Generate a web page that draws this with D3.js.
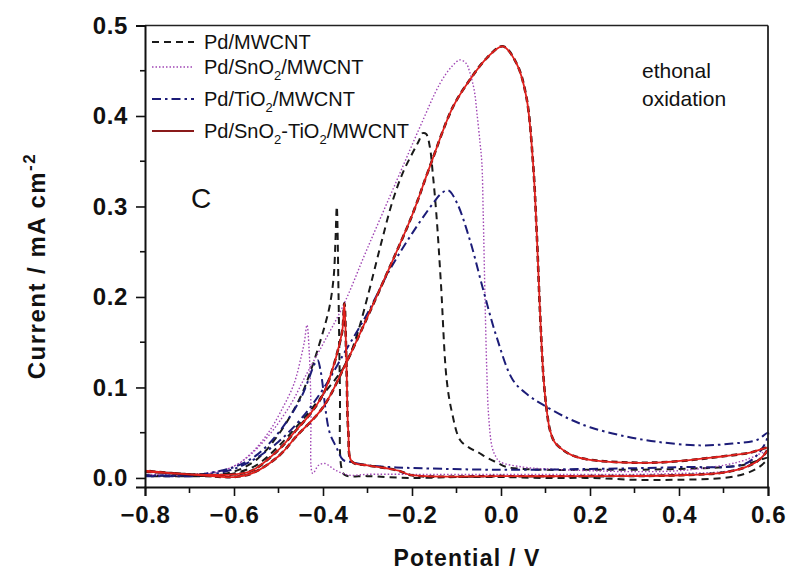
<!DOCTYPE html>
<html>
<meta charset="utf-8">
<style>
  body { margin: 0; background: #fff; }
  svg { display: block; }
  text { font-family: 'Liberation Sans', Arial, sans-serif; }
</style>
<body>
<svg id="chart" width="788" height="573"></svg>
<script src="https://cdn.jsdelivr.net/npm/d3@7"></script>
<script>
// potentials (V) and currents (mA cm-2), one loop per catalyst: forward scan then reverse scan
const pdMwcntV = [-0.8, -0.7, -0.65, -0.6, -0.55, -0.5, -0.45, -0.4, -0.35, -0.325, -0.3, -0.27, -0.243, -0.22, -0.2, -0.185, -0.176, -0.168, -0.16, -0.153, -0.145, -0.135, -0.122, -0.11, -0.092, -0.07, -0.054, -0.03, -0.009, 0.013, 0.05, 0.1, 0.2, 0.3, 0.4, 0.5, 0.55, 0.6,
  0.58, 0.55, 0.5, 0.4, 0.3, 0.2, 0.1, 0.0, -0.1, -0.2, -0.3, -0.35, -0.358, -0.362, -0.365, -0.369, -0.372, -0.376, -0.385, -0.395, -0.41, -0.43, -0.45, -0.5, -0.55, -0.6, -0.65, -0.7, -0.8]
const pdMwcntI = [0.003, 0.002, 0.002, 0.005, 0.014, 0.035, 0.062, 0.092, 0.125, 0.156, 0.2, 0.258, 0.307, 0.338, 0.358, 0.372, 0.381, 0.38, 0.366, 0.335, 0.29, 0.215, 0.108, 0.072, 0.042, 0.033, 0.029, 0.022, 0.017, 0.012, 0.01, 0.009, 0.009, 0.009, 0.01, 0.012, 0.015, 0.022,
  0.012, 0.005, 0.0, -0.002, -0.002, 0.0, 0.0, 0.001, 0.001, 0.0, 0.002, 0.003, 0.01, 0.1, 0.2, 0.3, 0.262, 0.222, 0.19, 0.17, 0.145, 0.115, 0.09, 0.048, 0.02, 0.007, 0.003, 0.002, 0.002]

const pdSnO2V = [-0.8, -0.7, -0.65, -0.6, -0.56, -0.52, -0.49, -0.467, -0.44, -0.4, -0.355, -0.3, -0.234, -0.182, -0.137, -0.11, -0.092, -0.078, -0.07, -0.06, -0.054, -0.047, -0.043, -0.04, -0.036, -0.032, -0.028, -0.02, -0.012, -0.003, 0.05, 0.1, 0.2, 0.3, 0.4, 0.5, 0.55, 0.6,
  0.58, 0.55, 0.5, 0.4, 0.3, 0.2, 0.0, -0.2, -0.3, -0.34, -0.37, -0.396, -0.41, -0.423, -0.427, -0.431, -0.436, -0.442, -0.45, -0.46, -0.47, -0.49, -0.52, -0.56, -0.6, -0.65, -0.7, -0.8]
const pdSnO2I = [0.003, 0.003, 0.005, 0.013, 0.027, 0.048, 0.068, 0.086, 0.112, 0.148, 0.19, 0.254, 0.329, 0.388, 0.436, 0.455, 0.462, 0.458, 0.448, 0.428, 0.403, 0.37, 0.348, 0.293, 0.2, 0.12, 0.07, 0.034, 0.024, 0.018, 0.012, 0.01, 0.008, 0.007, 0.008, 0.014, 0.02, 0.03,
  0.02, 0.012, 0.007, 0.005, 0.004, 0.004, 0.004, 0.004, 0.004, 0.003, 0.008, 0.016, 0.014, 0.005, 0.08, 0.14, 0.169, 0.15, 0.132, 0.112, 0.098, 0.078, 0.052, 0.028, 0.013, 0.006, 0.004, 0.004]

const pdTiO2V = [-0.8, -0.7, -0.65, -0.6, -0.55, -0.5, -0.45, -0.4, -0.35, -0.3, -0.25, -0.2, -0.152, -0.135, -0.119, -0.1, -0.07, -0.04, -0.01, 0.027, 0.06, 0.094, 0.15, 0.2, 0.27, 0.35, 0.447, 0.52, 0.575, 0.6,
  0.59, 0.55, 0.4, 0.2, 0.0, -0.2, -0.25, -0.3, -0.34, -0.355, -0.37, -0.385, -0.395, -0.4, -0.406, -0.412, -0.42, -0.43, -0.45, -0.5, -0.55, -0.6, -0.65, -0.7, -0.8]
const pdTiO2I = [0.002, 0.002, 0.004, 0.01, 0.022, 0.04, 0.065, 0.098, 0.14, 0.182, 0.23, 0.27, 0.304, 0.314, 0.318, 0.305, 0.263, 0.208, 0.156, 0.108, 0.092, 0.081, 0.066, 0.056, 0.047, 0.04, 0.036, 0.038, 0.042, 0.05,
  0.035, 0.016, 0.012, 0.01, 0.009, 0.011, 0.012, 0.014, 0.018, 0.02, 0.034, 0.05, 0.078, 0.1, 0.12, 0.13, 0.125, 0.112, 0.088, 0.05, 0.025, 0.012, 0.006, 0.003, 0.003]

const pdSnTiV = [-0.8, -0.7, -0.65, -0.62, -0.6, -0.56, -0.5, -0.46, -0.4, -0.35, -0.3, -0.25, -0.2, -0.16, -0.108, -0.07, -0.032, 0.004, 0.035, 0.057, 0.072, 0.08, 0.088, 0.096, 0.104, 0.11, 0.12, 0.139, 0.16, 0.2, 0.35, 0.5, 0.56, 0.6,
  0.58, 0.55, 0.5, 0.4, 0.2, 0.0, -0.2, -0.23, -0.26, -0.3, -0.335, -0.343, -0.347, -0.352, -0.356, -0.362, -0.38, -0.4, -0.43, -0.46, -0.5, -0.56, -0.6, -0.7, -0.8]
const pdSnTiI = [0.007, 0.004, 0.002, 0.001, 0.001, 0.005, 0.024, 0.046, 0.078, 0.125, 0.178, 0.233, 0.29, 0.344, 0.41, 0.44, 0.464, 0.477, 0.458, 0.421, 0.348, 0.274, 0.18, 0.108, 0.07, 0.053, 0.04, 0.031, 0.025, 0.02, 0.017, 0.024, 0.028, 0.033,
  0.02, 0.012, 0.006, 0.003, 0.002, 0.002, 0.003, 0.008, 0.011, 0.014, 0.018, 0.05, 0.12, 0.193, 0.165, 0.15, 0.118, 0.092, 0.07, 0.053, 0.031, 0.008, 0.004, 0.004, 0.008]

const seriesNames = ['Pd/MWCNT', 'Pd/SnO2/MWCNT', 'Pd/TiO2/MWCNT', 'Pd/SnO2-TiO2/MWCNT']
const xTicks = [-0.8, -0.6, -0.4, -0.2, 0.0, 0.2, 0.4, 0.6]
const yTicks = [0.0, 0.1, 0.2, 0.3, 0.4, 0.5]

const svg = d3.select('#chart')
const plotLeft = 145, plotRight = 768, plotTop = 25.5, plotBottom = 487

const x = d3.scaleLinear().domain([-0.8, 0.6]).range([plotLeft, plotRight])
const y = d3.scaleLinear().domain([-0.01, 0.5]).range([plotBottom, plotTop])

// series styles
const styles = [
  {v: pdMwcntV, i: pdMwcntI, color: '#1a1a1a', width: 2, dash: '7,5'},
  {v: pdSnO2V, i: pdSnO2I, color: '#a046b4', width: 1.4, dash: '1.5,2'},
  {v: pdTiO2V, i: pdTiO2I, color: '#1c1c78', width: 2, dash: '9,4,2.5,4'},
  {v: pdSnTiV, i: pdSnTiI, color: '#e0201c', width: 1.8, dash: null}
]

const line = d3.line()
  .x(d => x(d[0]))
  .y(d => y(d[1]))
  .curve(d3.curveCatmullRom.alpha(0.5))

const plot = svg.append('g')

styles.forEach((s, k) => {
  const pts = s.v.map((v, j) => [v, s.i[j]])
  if (k === 3) {
    // dark edge under the red trace
    plot.append('path').datum(pts)
      .attr('d', line).attr('fill', 'none')
      .attr('stroke', '#3a0c0c').attr('stroke-width', 2.6).attr('stroke-dasharray', '6,4')
  }
  plot.append('path').datum(pts)
    .attr('d', line)
    .attr('fill', 'none')
    .attr('stroke', s.color)
    .attr('stroke-width', s.width)
    .attr('stroke-dasharray', s.dash)
})

// frame
svg.append('line').attr('x1', plotLeft).attr('x2', plotRight).attr('y1', plotTop).attr('y2', plotTop)
  .attr('stroke', '#222').attr('stroke-width', 1.5)
svg.append('line').attr('x1', plotRight).attr('x2', plotRight).attr('y1', plotTop).attr('y2', plotBottom)
  .attr('stroke', '#222').attr('stroke-width', 1.8)

// axes
const xAxis = svg.append('g').attr('transform', `translate(0,${plotBottom})`)
  .call(d3.axisBottom(x).tickValues(xTicks).tickSize(9).tickPadding(10).tickFormat(d3.format('.1f')))
xAxis.append('g').selectAll('line').data([-0.7, -0.5, -0.3, -0.1, 0.1, 0.3, 0.5]).join('line')
  .attr('x1', d => x(d)).attr('x2', d => x(d)).attr('y1', 0).attr('y2', 6)
  .attr('stroke', '#111').attr('stroke-width', 1.6)

const yAxis = svg.append('g').attr('transform', `translate(${plotLeft},0)`)
  .call(d3.axisLeft(y).tickValues(yTicks).tickSize(9).tickPadding(8).tickFormat(d3.format('.1f')))
yAxis.append('g').selectAll('line').data([0.05, 0.15, 0.25, 0.35, 0.45]).join('line')
  .attr('x1', 0).attr('x2', -5).attr('y1', d => y(d)).attr('y2', d => y(d))
  .attr('stroke', '#111').attr('stroke-width', 1.6)

svg.selectAll('.domain').attr('stroke', '#111').attr('stroke-width', 2)
svg.selectAll('.tick line').attr('stroke', '#111').attr('stroke-width', 1.6)
svg.selectAll('.tick text')
  .attr('font-family', "'Liberation Sans', Arial, sans-serif")
  .attr('font-size', 24).attr('font-weight', 'bold').attr('fill', '#111')
  .attr('letter-spacing', 0.6)

// axis titles
svg.append('text').attr('x', 467).attr('y', 566).attr('text-anchor', 'middle')
  .attr('font-size', 23).attr('font-weight', 'bold').attr('letter-spacing', 1.2)
  .attr('fill', '#111').text('Potential / V')

const yt = svg.append('text').attr('transform', 'translate(45,266) rotate(-90)')
  .attr('text-anchor', 'middle').attr('font-size', 24).attr('font-weight', 'bold')
  .attr('letter-spacing', 1.5).attr('fill', '#111')
yt.append('tspan').text('Current / mA cm')
yt.append('tspan').attr('dy', -10).attr('font-size', 17).text('-2')

// legend
const legendY = [42, 67, 99, 131]
const legendColors = ['#1a1a1a', '#a046b4', '#1c1c78', '#8a1a1a']
const leg = svg.append('g')
styles.forEach((s, k) => {
  leg.append('line').attr('x1', 152).attr('x2', 194)
    .attr('y1', legendY[k]).attr('y2', legendY[k])
    .attr('stroke', legendColors[k]).attr('stroke-width', s.width)
    .attr('stroke-dasharray', s.dash)
  const t = leg.append('text').attr('x', 204).attr('y', legendY[k] + 7)
    .attr('font-size', 20).attr('fill', '#111')
  // split names on the "2" subscripts
  const parts = seriesNames[k].split('2')
  parts.forEach((p, j) => {
    t.append('tspan').text(p).attr('dy', j === 0 ? 0 : -6).attr('font-size', 20)
    if (j < parts.length - 1) {
      t.append('tspan').text('2').attr('dy', 6).attr('font-size', 13)
    }
  })
})

// annotations
svg.append('text').attr('x', 642).attr('y', 78).attr('font-size', 21).attr('fill', '#111').text('ethonal')
svg.append('text').attr('x', 642).attr('y', 106).attr('font-size', 21).attr('fill', '#111').text('oxidation')
svg.append('text').attr('x', 191).attr('y', 208).attr('font-family', "'Liberation Serif', 'Times New Roman', serif")
  .attr('font-size', 28).attr('fill', '#111').text('C')
</script>
</body>
</html>
